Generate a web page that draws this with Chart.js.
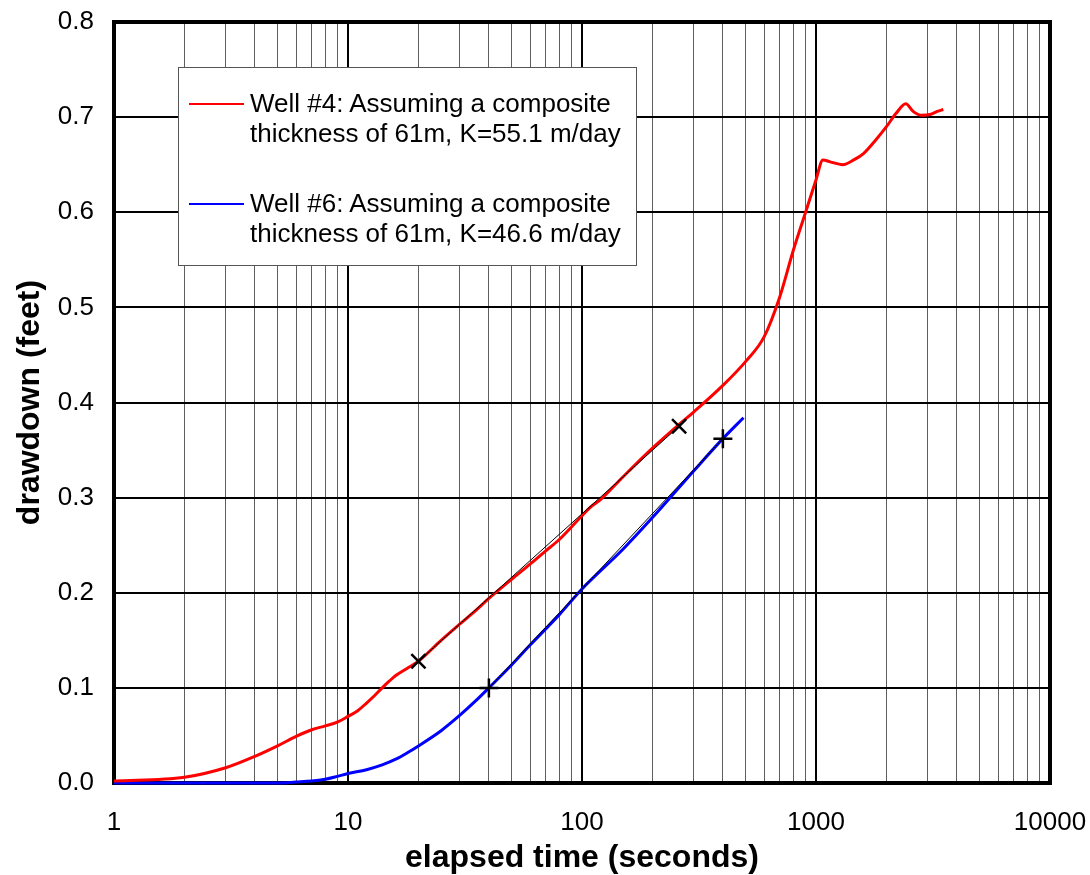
<!DOCTYPE html>
<html>
<head>
<meta charset="utf-8">
<script src="https://cdn.jsdelivr.net/npm/chart.js@4"></script>
<style>
  body { margin: 0; background: #fff; }
  #wrap { position: relative; width: 1090px; height: 875px; }
  #legend {
    position: absolute; left: 178px; top: 67px; width: 457px; height: 197px;
    border: 1px solid #555; background: #fff;
    font-family: "Liberation Sans", Arial, sans-serif; font-size: 26px; color: #000;
  }
  .item { position: absolute; left: 0; }
  .item span.swatch { position: absolute; left: 10px; width: 55px; height: 0; border-top: 2px solid; }
  .item div.txt { position: absolute; left: 71px; width: 390px; line-height: 30px; white-space: nowrap; }
</style>
</head>
<body>
<div id="wrap">
  <canvas id="myChart" width="1090" height="875"></canvas>
  <div id="legend">
    <div class="item" style="top:20px"><span class="swatch" style="border-color:#ff0000;top:15px"></span><div class="txt">Well #4: Assuming a composite<br>thickness of 61m, K=55.1 m/day</div></div>
    <div class="item" style="top:120px"><span class="swatch" style="border-color:#0000ff;top:15px"></span><div class="txt">Well #6: Assuming a composite<br>thickness of 61m, K=46.6 m/day</div></div>
  </div>
</div>
<script>
const ctx = document.getElementById("myChart");

// well #4 drawdown (feet) vs elapsed time (s)
const well4Time = [1, 2, 3, 4, 5, 6, 7, 8, 9, 10, 11, 12, 13, 14, 15, 16, 18, 20, 25, 30, 35, 40, 50, 60, 70, 80, 100, 110, 120, 150, 200, 260, 300, 400, 500, 600, 700, 800, 900, 1000, 1070, 1150, 1300, 1450, 1600, 1800, 2000, 2200, 2420, 2600, 2800, 3100, 3300, 3500];
const well4Draw = [0.002, 0.006, 0.016, 0.028, 0.039, 0.049, 0.056, 0.060, 0.064, 0.070, 0.076, 0.084, 0.092, 0.100, 0.107, 0.113, 0.121, 0.128, 0.150, 0.167, 0.181, 0.194, 0.214, 0.230, 0.244, 0.256, 0.281, 0.291, 0.298, 0.322, 0.352, 0.377, 0.390, 0.418, 0.443, 0.469, 0.511, 0.560, 0.599, 0.634, 0.655, 0.653, 0.650, 0.655, 0.662, 0.676, 0.690, 0.704, 0.714, 0.706, 0.702, 0.703, 0.706, 0.708];

// well #6
const well6Time = [1, 3, 5, 6, 7, 8, 9, 10, 12, 14, 16, 18, 20, 25, 30, 35, 40, 50, 60, 70, 80, 100, 150, 200, 300, 400, 490];
const well6Draw = [0.000, 0.000, 0.000, 0.001, 0.002, 0.004, 0.007, 0.010, 0.014, 0.019, 0.025, 0.032, 0.039, 0.055, 0.071, 0.086, 0.100, 0.124, 0.145, 0.162, 0.177, 0.204, 0.246, 0.279, 0.328, 0.362, 0.384];

// straight line fits (end points)
const fit4Time = [20, 260];
const fit4Draw = [0.128, 0.375];
const fit6Time = [40, 400];
const fit6Draw = [0.100, 0.362];

const xTickLabels = [1, 10, 100, 1000, 10000];
const yTickLabels = [0.0, 0.1, 0.2, 0.3, 0.4, 0.5, 0.6, 0.7, 0.8];

const toPoints = (xs, ys) => xs.map((x, i) => ({ x: x, y: ys[i] }));
const isDecade = (v) => Math.abs(Math.log10(v) - Math.round(Math.log10(v))) < 1e-9;

const frame = {
  id: "frame",
  beforeDatasetsDraw(chart) {
    const a = chart.chartArea;
    const c = chart.ctx;
    c.save();
    c.strokeStyle = "#000";
    c.lineWidth = 4;
    c.strokeRect(a.left, a.top, a.right - a.left, a.bottom - a.top);
    c.restore();
  }
};

new Chart(ctx, {
  type: "line",
  data: {
    datasets: [
      {
        label: "Well #4: Assuming a composite thickness of 61m, K=55.1 m/day",
        data: toPoints(well4Time, well4Draw),
        borderColor: "#ff0000",
        borderWidth: 3,
        pointRadius: 0,
        cubicInterpolationMode: "monotone",
        clip: 4,
      },
      {
        label: "Well #6: Assuming a composite thickness of 61m, K=46.6 m/day",
        data: toPoints(well6Time, well6Draw),
        borderColor: "#0000ff",
        borderWidth: 3,
        pointRadius: 0,
        cubicInterpolationMode: "monotone",
        clip: 4,
        order: 1,
      },
      {
        label: "fit4",
        data: toPoints(fit4Time, fit4Draw),
        borderColor: "#000",
        borderWidth: 1,
        pointStyle: "crossRot",
        pointRadius: 10,
        pointBorderWidth: 2.5,
        pointBorderColor: "#000",
        order: -1,
      },
      {
        label: "fit6",
        data: toPoints(fit6Time, fit6Draw),
        borderColor: "#000",
        borderWidth: 1,
        pointStyle: "cross",
        pointRadius: 9.5,
        pointBorderWidth: 2.5,
        pointBorderColor: "#000",
        order: -1,
      },
    ],
  },
  options: {
    responsive: false,
    animation: false,
    layout: { padding: { top: 22, right: 40, left: 0, bottom: 0 } },
    plugins: { legend: { display: false }, tooltip: { enabled: false } },
    scales: {
      x: {
        type: "logarithmic",
        min: 1,
        max: 10000,
        afterFit(scale) {
          scale.height = 92;
          scale.paddingLeft = 0;
          scale.paddingRight = 0;
        },
        afterBuildTicks(scale) {
          const t = [];
          for (let d = 0; d < xTickLabels.length - 1; d++) {
            for (let s = 1; s < 10; s++) t.push({ value: s * xTickLabels[d] });
          }
          t.push({ value: xTickLabels[xTickLabels.length - 1] });
          scale.ticks = t;
        },
        ticks: {
          autoSkip: false,
          maxRotation: 0,
          padding: 24,
          color: "#000",
          font: { family: "Liberation Sans", size: 26 },
          callback: (v) => (xTickLabels.includes(v) ? String(v) : ""),
        },
        grid: {
          drawTicks: false,
          color: (c) => (isDecade(c.tick.value) ? "#000" : "#5e5e5e"),
          lineWidth: (c) => (isDecade(c.tick.value) ? 2 : 1),
        },
        border: { display: false },
        title: {
          display: true,
          text: "elapsed time (seconds)",
          color: "#000",
          font: { family: "Liberation Sans", size: 32, weight: "bold", lineHeight: 1 },
          padding: { top: 0, bottom: 1 },
        },
      },
      y: {
        min: 0,
        max: 0.8,
        afterFit(scale) {
          scale.width = 114;
          scale.paddingTop = 0;
          scale.paddingBottom = 0;
        },
        afterBuildTicks(scale) { scale.ticks = yTickLabels.map((v) => ({ value: v })); },
        ticks: {
          padding: 20,
          color: "#000",
          font: { family: "Liberation Sans", size: 26 },
          callback: (v) => v.toFixed(1),
        },
        grid: { drawTicks: false, color: "#000", lineWidth: 2 },
        border: { display: false },
        title: {
          display: true,
          text: "drawdown (feet)",
          color: "#000",
          font: { family: "Liberation Sans", size: 32, weight: "bold", lineHeight: 1 },
          padding: { top: 14, bottom: 0 },
        },
      },
    },
  },
  plugins: [frame],
});
</script>
</body>
</html>
